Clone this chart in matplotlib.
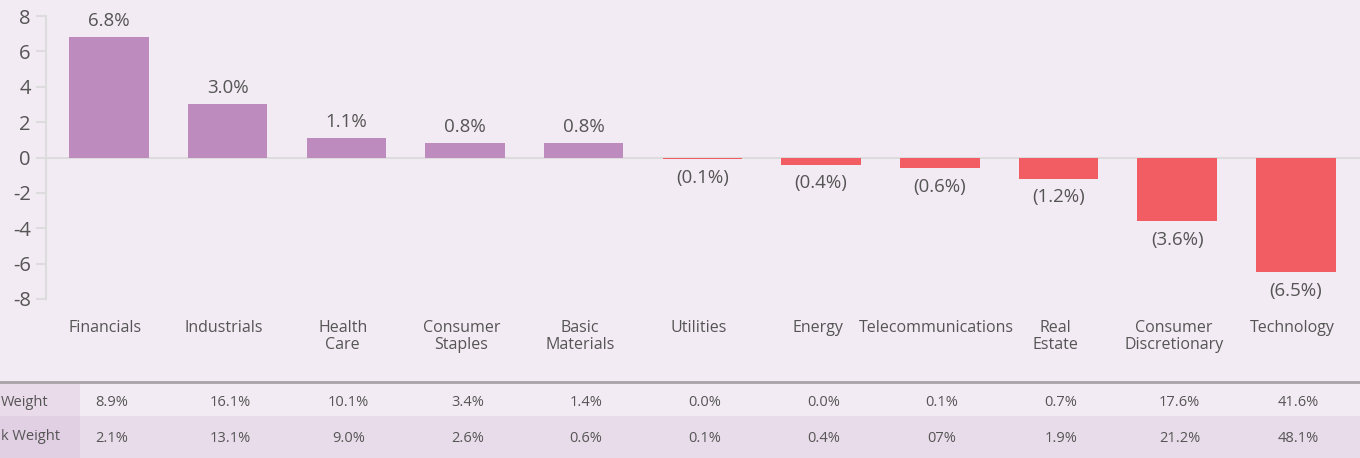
import numpy as np
import matplotlib
matplotlib.use("Agg")
import matplotlib.pyplot as plt
from matplotlib.patches import Rectangle
from matplotlib.transforms import blended_transform_factory

plt.rcParams['font.family'] = ['Open Sans', 'DejaVu Sans']
plt.rcParams['axes.unicode_minus'] = False

# data
sectors = ["Financials", "Industrials", "Health\nCare", "Consumer\nStaples", "Basic\nMaterials",
           "Utilities", "Energy", "Telecommunications", "Real\nEstate", "Consumer\nDiscretionary",
           "Technology"]
active = [6.8, 3.0, 1.1, 0.8, 0.8, -0.1, -0.4, -0.6, -1.2, -3.6, -6.5]
fund_weight = ["8.9%", "16.1%", "10.1%", "3.4%", "1.4%", "0.0%", "0.0%", "0.1%", "0.7%", "17.6%", "41.6%"]
bench_weight = ["2.1%", "13.1%", "9.0%", "2.6%", "0.6%", "0.1%", "0.4%", "07%", "1.9%", "21.2%", "48.1%"]
row_names = ["Weight", "k Weight"]

BG = "#f3ebf3"
PURPLE = "#bd8bbe"
RED = "#f25d64"
TXT = "#555555"
GRID = "#dcdcdc"

W, H = 1360, 458
fig = plt.figure(figsize=(13.6, 4.58), dpi=100, facecolor=BG)

def fy(px):
    return 1 - px / H

# table bands (figure coords), kept under everything
for (x0, y0, w, h, c) in [(0, 416, W, 42, "#e9dcea"),
                          (0, 383, 80, 33, "#e9dbea"),
                          (0, 416, 80, 42, "#e1cfe3")]:
    fig.patches.append(Rectangle((x0 / W, fy(y0 + h)), w / W, h / H, transform=fig.transFigure,
                                 facecolor=c, edgecolor="none", zorder=-5))
fig.lines.append(plt.Line2D([0, 1], [fy(382), fy(382)], transform=fig.transFigure,
                            color="#a8a2a8", lw=2, zorder=-4))

ax = fig.add_axes([46 / W, fy(299), 1 - 46 / W, (299 - 16) / H])
ax.patch.set_alpha(0)

x = np.arange(len(sectors))
colors = [PURPLE if v >= 0 else RED for v in active]
ax.bar(x, active, width=0.67, color=colors, zorder=3)
ax.axhline(0, color=GRID, lw=1.5, zorder=2)

ax.set_xlim(-0.53, 10.54)
ax.set_ylim(-8, 8)
ax.set_yticks(np.arange(-8, 9, 2))
ax.tick_params(axis='y', colors=GRID, length=7, width=1.5, labelsize=14.5, labelcolor=TXT, pad=4)
ax.set_xticks([])
for s in ["top", "right", "bottom"]:
    ax.spines[s].set_visible(False)
ax.spines["left"].set_color(GRID)
ax.spines["left"].set_linewidth(1.5)

for xi, v in zip(x, active):
    if v >= 0:
        ax.annotate(f"{v:.1f}%", (xi, v), xytext=(0, 5), textcoords="offset points",
                    ha="center", va="bottom", fontsize=13.5, color=TXT)
    else:
        ax.annotate(f"({abs(v):.1f}%)", (xi, v), xytext=(0, -7), textcoords="offset points",
                    ha="center", va="top", fontsize=13.5, color=TXT)

tr = blended_transform_factory(ax.transData, fig.transFigure)
for xi, name in zip(x, sectors):
    ax.text(xi - 0.03, fy(320), name, transform=tr, ha="center", va="top",
            fontsize=11.5, color=TXT, linespacing=1.1)

for xi, a, b in zip(x, fund_weight, bench_weight):
    ax.text(xi + 0.02, fy(402), a, transform=tr, ha="center", va="center", fontsize=10.5, color=TXT)
    ax.text(xi + 0.02, fy(438), b, transform=tr, ha="center", va="center", fontsize=10.5, color=TXT)

fig.text(1 / W, fy(402), row_names[0], ha="left", va="center", fontsize=10.5, color=TXT)
fig.text(1 / W, fy(437), row_names[1], ha="left", va="center", fontsize=10.5, color=TXT)

fig.savefig("out.png", dpi=100, facecolor=BG)
